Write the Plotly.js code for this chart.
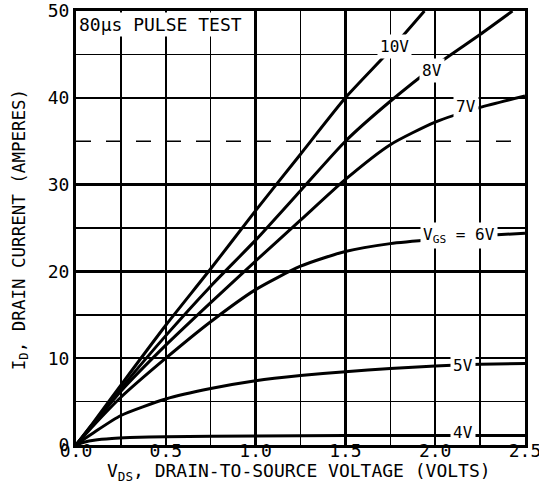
<!DOCTYPE html>
<html>
<head>
<meta charset="utf-8">
<script src="https://cdn.plot.ly/plotly-3.0.1.min.js"></script>
<style>html,body{margin:0;padding:0;background:#fff;}#chart{width:539px;height:493px;}</style>
</head>
<body>
<div id="chart"></div>
<script>
// V_DS (volts) and I_D (amperes), one pair of arrays per V_GS curve
const vds10 = [0, 0.1, 0.25, 0.5, 0.75, 1.0, 1.25, 1.5, 1.75, 1.94];
const id10  = [0, 2.7, 6.9, 13.8, 20.3, 27.0, 33.5, 40.0, 45.5, 50.0];

const vds8 = [0, 0.1, 0.25, 0.5, 0.75, 1.0, 1.25, 1.5, 1.75, 2.0, 2.25, 2.43];
const id8  = [0, 2.6, 6.5, 12.6, 18.3, 23.6, 29.3, 35.0, 39.6, 43.7, 47.3, 50.0];

const vds7 = [0, 0.1, 0.25, 0.5, 0.75, 1.0, 1.25, 1.5, 1.75, 2.0, 2.25, 2.5];
const id7  = [0, 2.5, 6.2, 11.5, 16.4, 21.2, 25.9, 30.6, 34.6, 37.2, 38.9, 40.2];

const vds6 = [0, 0.1, 0.25, 0.5, 0.75, 1.0, 1.25, 1.5, 1.75, 2.0, 2.25, 2.5];
const id6  = [0, 2.3, 5.5, 10.0, 14.2, 17.9, 20.6, 22.3, 23.2, 23.7, 24.1, 24.4];

const vds5 = [0, 0.05, 0.1, 0.25, 0.5, 0.75, 1.0, 1.25, 1.5, 1.75, 2.0, 2.25, 2.5];
const id5  = [0, 0.75, 1.45, 3.4, 5.3, 6.5, 7.4, 8.0, 8.45, 8.8, 9.1, 9.3, 9.4];

const vds4 = [0, 0.05, 0.1, 0.2, 0.3, 0.5, 1.0, 1.5, 2.0, 2.5];
const id4  = [0, 0.35, 0.55, 0.75, 0.85, 0.95, 1.05, 1.1, 1.1, 1.1];

const curveLabels = ['10V', '8V', '7V', 'V<sub>GS</sub> = 6V', '5V', '4V'];
const xTickVals = [0, 0.5, 1.0, 1.5, 2.0, 2.5];
const yTickVals = [0, 10, 20, 30, 40, 50];
const yMinorVals = [5, 15, 25, 45];
const yDashedVal = 35;

const FONT = 'DejaVu Sans Mono, Liberation Mono, monospace';

const series = [[vds10, id10], [vds8, id8], [vds7, id7], [vds6, id6], [vds5, id5], [vds4, id4]];
const traces = series.map(([x, y]) => ({
  x: x, y: y, type: 'scatter', mode: 'lines',
  line: {color: 'black', width: 3, shape: 'spline', smoothing: 0.6},
  hoverinfo: 'skip', cliponaxis: true
}));

// label anchor points (data coordinates) for each curve label
const labelX = [1.776, 1.98, 2.174, 2.13, 2.153, 2.153];
const labelY = [45.9, 43.2, 39.0, 24.1, 9.2, 1.4];

const annotations = curveLabels.map((t, i) => ({
  text: t, x: labelX[i], y: labelY[i], xref: 'x', yref: 'y',
  showarrow: false, xanchor: 'center', yanchor: 'middle',
  bgcolor: 'white', borderpad: 2,
  font: {family: FONT, size: 16, color: 'black'}
}));

annotations.push({
  text: '80\u03bcs PULSE TEST', xref: 'paper', yref: 'paper', x: 0, y: 1,
  xanchor: 'left', yanchor: 'top', showarrow: false, bgcolor: 'white',
  borderpad: 1, xshift: 1, yshift: -1,
  font: {family: FONT, size: 18, color: 'black'}
});
annotations.push({
  text: 'V<sub>DS</sub>, DRAIN-TO-SOURCE VOLTAGE (VOLTS)', xref: 'paper', yref: 'paper',
  x: 0.497, y: -0.062, xanchor: 'center', yanchor: 'middle', showarrow: false,
  font: {family: FONT, size: 18, color: 'black'}
});
annotations.push({
  text: 'I<sub>D</sub>, DRAIN CURRENT (AMPERES)', xref: 'paper', yref: 'paper',
  x: -0.125, y: 0.497, xanchor: 'center', yanchor: 'middle', showarrow: false,
  textangle: -90,
  font: {family: FONT, size: 17.5, color: 'black'}
});

const layout = {
  width: 539, height: 493,
  margin: {l: 76, r: 14, t: 11, b: 48},
  paper_bgcolor: 'white', plot_bgcolor: 'white',
  showlegend: false,
  font: {family: FONT, color: 'black'},
  xaxis: {
    range: [0, 2.5], tickmode: 'array', tickvals: xTickVals, tickformat: '.1f',
    showgrid: true, gridcolor: 'black', gridwidth: 2.5,
    minor: {dtick: 0.25, tick0: 0, showgrid: true, gridcolor: 'black', gridwidth: 1.5, ticks: ''},
    zeroline: false, showline: true, linecolor: 'black', linewidth: 3, mirror: true,
    ticks: '', ticklabelstandoff: -13, ticklabeloverflow: 'allow',
    tickfont: {family: FONT, size: 18, color: 'black'}, fixedrange: true
  },
  yaxis: {
    range: [0, 50], tickmode: 'array', tickvals: yTickVals,
    showgrid: true, gridcolor: 'black', gridwidth: 2.5,
    minor: {tickmode: 'array', tickvals: yMinorVals, showgrid: true, gridcolor: 'black', gridwidth: 1.5, ticks: ''},
    zeroline: false, showline: true, linecolor: 'black', linewidth: 3, mirror: true,
    ticks: '', tickfont: {family: FONT, size: 18, color: 'black'}, fixedrange: true
  },
  shapes: [{
    type: 'line', xref: 'paper', yref: 'y', x0: 0, x1: 1, y0: yDashedVal, y1: yDashedVal,
    line: {color: 'black', width: 1.5, dash: 'longdash'}, layer: 'below'
  }],
  annotations: annotations
};

Plotly.newPlot('chart', traces, layout, {staticPlot: true, displayModeBar: false});
</script>
</body>
</html>
